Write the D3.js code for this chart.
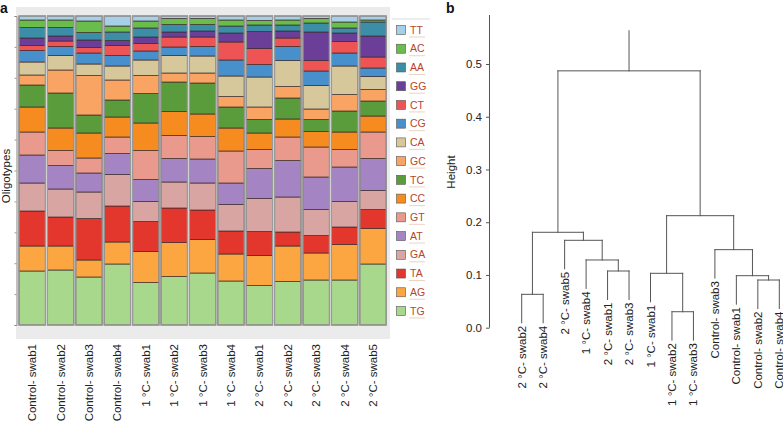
<!DOCTYPE html>
<html>
<head>
<meta charset="utf-8">
<script src="https://cdn.jsdelivr.net/npm/d3@7"></script>
<style>
  html, body { margin: 0; padding: 0; background: #fff; }
  svg { display: block; font-family: 'Liberation Sans', Arial, Helvetica, sans-serif; }
</style>
</head>
<body>
<svg id="chart" width="783" height="422"></svg>
<script>
// ---------------- DATA ----------------
const samples = ["Control- swab1","Control- swab2","Control- swab3","Control- swab4",
  "1 °C- swab1","1 °C- swab2","1 °C- swab3","1 °C- swab4",
  "2 °C- swab1","2 °C- swab2","2 °C- swab3","2 °C- swab4","2 °C- swab5"];

// stack order, bottom -> top
const oligotypes = ["TG","AG","TA","GA","AT","GT","CC","TC","GC","CA","CG","CT","GG","AA","AC","TT"];

// relative abundances, one value per sample
const TG = [54, 55, 48, 61, 42.5, 48.5, 52, 44, 39.5, 43.5, 45, 45, 61];
const AG = [25, 24, 17, 22, 31, 34, 33.5, 27, 30, 35.5, 27, 35.5, 35.5];
const TA = [35, 29, 41.5, 36, 30, 34.5, 29.5, 23, 24, 14, 17.5, 17.5, 19];
const GA = [28, 28, 26.5, 31.5, 20, 26, 27, 26.5, 33, 35, 26, 25.5, 19];
const AT = [28, 23.5, 19, 21, 22, 23.5, 24, 21.5, 30, 36.5, 32.5, 34.5, 32];
const GT = [23, 15, 15, 16.5, 29, 23, 22.5, 32, 19, 23.5, 30, 17.5, 26.5];
const CC = [25, 22.5, 25, 20, 27.5, 24, 22.5, 23, 16.5, 18, 15.5, 17.5, 16];
const TC = [22, 35, 18, 17, 29.5, 29.5, 31, 21, 13.5, 21, 12, 21, 15];
const GC = [10, 23, 39.5, 20, 18, 9, 10, 10.5, 12.5, 11.5, 10.5, 16.5, 11.5];
const CA = [13, 14.5, 11.5, 14, 15.5, 17.5, 17, 20.5, 30, 26, 23.5, 28.5, 13];
const CG = [11.5, 9, 11, 10.5, 9, 8.5, 9.5, 16, 12.5, 14, 14.5, 13, 8.5];
const CT = [5, 5.5, 5.5, 10, 7.5, 10, 9.5, 18, 16, 8.5, 10.5, 11.5, 11];
const GG = [7.5, 5, 7.5, 5, 6.5, 5, 6, 9, 17, 7, 28.5, 8.5, 21];
const AA = [10.5, 8.5, 7.5, 8.5, 9, 7.5, 6.5, 7, 6.5, 6, 9, 5, 14];
const AC = [7.5, 7.5, 11.5, 6, 7, 6, 6, 6, 4.5, 5, 4.5, 6, 2];
const TT = [4, 4, 5, 10, 5, 2.5, 2.5, 4, 4.5, 4, 2.5, 6, 4];

const colors = ["#a8d88c","#fba640","#e3362c","#d9a5a3","#a484c3","#e99a8c","#f68b1f","#5a9c3c",
  "#f9a462","#d7c89c","#4790cc","#ee5454","#6b3f98","#3b8ea5","#6abd4b","#a6cfe8"];

// dendrogram (hclust) merge heights
const dendroTree = {h:0.487, children:[
  {h:0.1809, children:[
    {h:0.0633, children:[{name:"2 °C- swab2"},{name:"2 °C- swab4"}]},
    {h:0.1657, children:[{name:"2 °C- swab5"},
      {h:0.1284, children:[{name:"1 °C- swab4"},
        {h:0.1075, children:[{name:"2 °C- swab1"},{name:"2 °C- swab3"}]}]}]}
  ]},
  {h:0.2124, children:[
    {h:0.1031, children:[{name:"1 °C- swab1"},
      {h:0.0303, children:[{name:"1 °C- swab2"},{name:"1 °C- swab3"}]}]},
    {h:0.148, children:[{name:"Control- swab3"},
      {h:0.0986, children:[{name:"Control- swab1"},
        {h:0.0904, children:[{name:"Control- swab2"},{name:"Control- swab4"}]}]}]}
  ]}
]};
const rootTop = 0.563;
const leafHang = 0.054;
const heightTicks = [0, 0.1, 0.2, 0.3, 0.4, 0.5];

// ---------------- DRAW ----------------
const svg = d3.select("#chart");
const seriesVals = {TG, AG, TA, GA, AT, GT, CC, TC, GC, CA, CG, CT, GG, AA, AC, TT};
const table = samples.map((s, i) => {
  const row = {sample: s};
  oligotypes.forEach(o => row[o] = seriesVals[o][i]);
  return row;
});
const color = d3.scaleOrdinal().domain(oligotypes).range(colors);

// ---- Panel a ----
const gA = svg.append("g");
gA.append("rect").attr("x", 16).attr("y", 7).attr("width", 374).attr("height", 332).attr("fill", "#ebebeb");

const x = d3.scaleBand().domain(samples).range([18, 387.2]).paddingInner(0.07).paddingOuter(0.035);
const y = d3.scaleLinear().domain([0, 1]).range([325, 16]);

const stack = d3.stack().keys(oligotypes).offset(d3.stackOffsetExpand);
const series = stack(table);

gA.append("g").selectAll("g").data(series).join("g")
  .attr("fill", d => color(d.key))
  .selectAll("rect").data(d => d).join("rect")
  .attr("x", d => x(d.data.sample))
  .attr("width", x.bandwidth())
  .attr("y", d => y(d[1]))
  .attr("height", d => y(d[0]) - y(d[1]))
  .attr("stroke", "#3a2c2a").attr("stroke-width", 0.8).attr("stroke-opacity", 0.85);

gA.append("g").selectAll("rect").data(samples).join("rect")
  .attr("x", d => x(d)).attr("width", x.bandwidth())
  .attr("y", y(1)).attr("height", y(0) - y(1))
  .attr("fill", "none").attr("stroke", "#9a9a9a").attr("stroke-width", 1.3);

// left axis (no labels)
const yAxA = gA.append("g").attr("transform", "translate(16.5,0)")
  .call(d3.axisLeft(y).ticks(10).tickSize(2).tickFormat(""));
yAxA.selectAll("path,line").attr("stroke", "#8a7e7e").attr("stroke-width", 0.8);

gA.append("text").attr("transform", "translate(10,176) rotate(-90)")
  .attr("text-anchor", "middle").attr("font-size", 11.5).attr("fill", "#222").text("Oligotypes");

gA.append("g").selectAll("text").data(samples).join("text")
  .attr("transform", d => `translate(${x(d) + x.bandwidth() / 2},344) rotate(-90)`)
  .attr("text-anchor", "end").attr("dy", "0.35em")
  .attr("font-size", 11.5).attr("fill", "#222").text(d => d);

// legend
const legendOrder = oligotypes.slice().reverse();
const ly = d3.scalePoint().domain(legendOrder).range([30, 311]);
const gL = gA.append("g");
gL.append("line").attr("x1", 392).attr("x2", 430).attr("y1", 19).attr("y2", 19).attr("stroke", "#dcdcdc");
const li = gL.selectAll("g").data(legendOrder).join("g").attr("transform", d => `translate(0,${ly(d)})`);
li.append("rect").attr("x", 396.5).attr("y", -4.5).attr("width", 9).attr("height", 9)
  .attr("fill", d => color(d)).attr("stroke", "#555").attr("stroke-width", 0.6);
li.append("text").attr("x", 410).attr("dy", "0.35em").attr("font-size", 10.5)
  .attr("fill", "#b5452c").text(d => d);
li.append("line").attr("x1", 409).attr("x2", 425).attr("y1", 7).attr("y2", 7)
  .attr("stroke", "#e6c6b6").attr("stroke-width", 0.8);

svg.append("text").attr("x", 0).attr("y", 13).attr("font-size", 14).attr("font-weight", "bold")
  .attr("fill", "#111").text("a");

// ---- Panel b ----
const gB = svg.append("g");
const root = d3.hierarchy(dendroTree);
const leaves = root.leaves();
const xd = d3.scalePoint().domain(leaves.map(d => d.data.name)).range([521.7, 779.3]);
const yd = d3.scaleLinear().domain([0, 0.5]).range([327.7, 64]);

root.eachAfter(n => {
  if (n.children) { n.px = d3.mean(n.children, c => c.px); n.py = yd(n.data.h); }
  else { n.px = xd(n.data.name); n.py = yd(n.parent.data.h - leafHang); }
});

const segs = [];
root.each(n => {
  if (n.children) {
    segs.push([n.children[0].px, n.py, n.children[n.children.length - 1].px, n.py]);
    n.children.forEach(c => segs.push([c.px, n.py, c.px, c.py]));
  }
});
segs.push([root.px, yd(rootTop), root.px, root.py]);

gB.append("g").selectAll("line").data(segs).join("line")
  .attr("x1", d => d[0]).attr("y1", d => d[1]).attr("x2", d => d[2]).attr("y2", d => d[3])
  .attr("stroke", "#555").attr("stroke-width", 1).attr("stroke-linecap", "square");

gB.append("g").selectAll("text").data(leaves).join("text")
  .attr("transform", d => `translate(${d.px},${d.py + 3}) rotate(-90)`)
  .attr("text-anchor", "end").attr("dy", "0.35em")
  .attr("font-size", 11.5).attr("fill", "#222").text(d => d.data.name);

const yAxB = gB.append("g").attr("transform", "translate(489.5,0)")
  .call(d3.axisLeft(yd).tickValues(heightTicks).tickFormat(d3.format(".1f")).tickSize(3.5).tickPadding(4));
yAxB.select(".domain").remove();
yAxB.selectAll("line").attr("stroke", "#555");
yAxB.selectAll("text").attr("font-size", 11.5).attr("fill", "#222")
  .attr("font-family", "'Liberation Sans', Arial, sans-serif");
gB.append("line").attr("x1", 489.5).attr("x2", 489.5).attr("y1", yd(0)).attr("y2", 15)
  .attr("stroke", "#555").attr("stroke-width", 1);

gB.append("text").attr("transform", "translate(455,172) rotate(-90)")
  .attr("text-anchor", "middle").attr("font-size", 11.5).attr("fill", "#222").text("Height");

svg.append("text").attr("x", 446).attr("y", 13).attr("font-size", 14).attr("font-weight", "bold")
  .attr("fill", "#111").text("b");
</script>
</body>
</html>
